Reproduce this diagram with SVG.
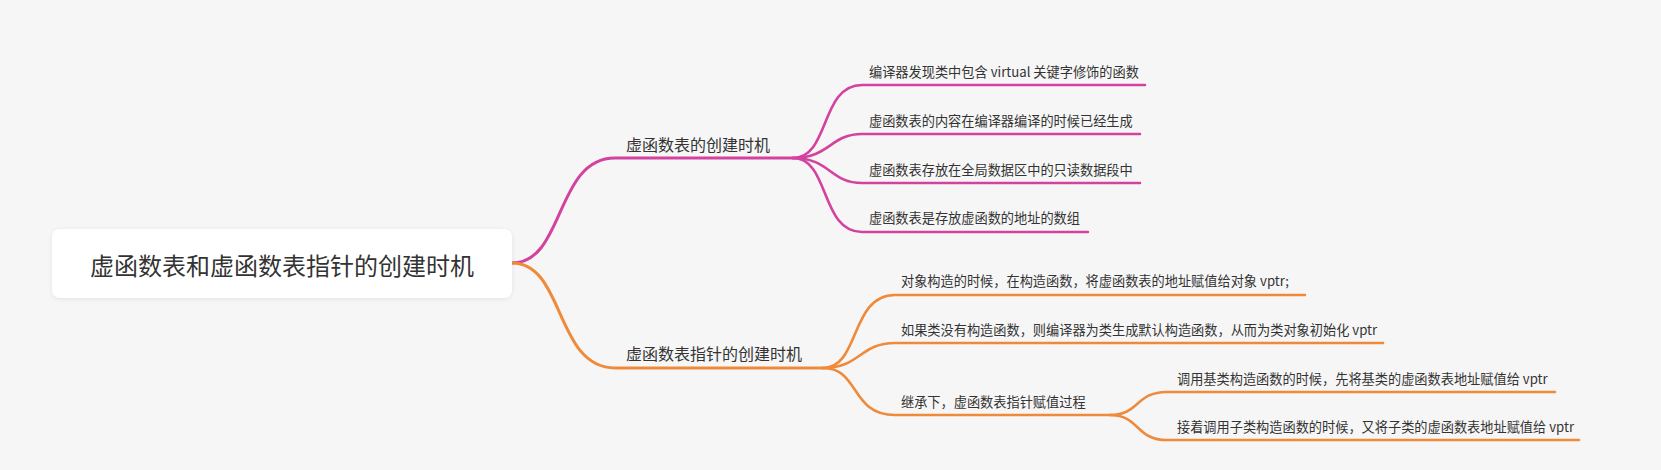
<svg xmlns="http://www.w3.org/2000/svg" width="1661" height="470" viewBox="0 0 1661 470">
<defs>
<filter id="sh" x="-5%" y="-20%" width="110%" height="140%">
<feDropShadow dx="0" dy="1" stdDeviation="2" flood-color="#000" flood-opacity="0.08"/>
</filter>
</defs>
<style>
text{font-family:"Noto Sans CJK SC","Noto Sans",sans-serif;fill:#333;}
.root{font-size:24px;}
.main{font-size:16px;}
.leaf{font-size:13.2px;}
.m{stroke:#d3429e;fill:none;stroke-linecap:round;}
.o{stroke:#ef8a3b;fill:none;stroke-linecap:round;}
.w3{stroke-width:3;}
.w2{stroke-width:2.6;}
</style>
<rect width="1661" height="470" fill="#f6f6f6"/>
<g id="connectors">
<path class="m w3" d="M512,263 C565,263 555,158 615,158 L793,158"/>
<path class="o w3" d="M512,263 C565,263 555,368 615,368 L823,368"/>
<path class="m w2" d="M793,158 C830,158 820,85 862,85 L1145,85"/>
<path class="m w2" d="M793,158 C830,158 830,134 862,134 L1140,134"/>
<path class="m w2" d="M793,158 C830,158 830,183 862,183 L1140,183"/>
<path class="m w2" d="M793,158 C830,158 820,232 862,232 L1088,232"/>
<path class="o w2" d="M823,368 C860,368 850,295 895,295 L1305,295"/>
<path class="o w2" d="M823,368 C860,368 860,343 895,343 L1383,343"/>
<path class="o w2" d="M823,368 C860,368 850,415 895,415 L1110,415"/>
<path class="o w2" d="M1110,415 C1140,415 1135,392 1167,392 L1555,392"/>
<path class="o w2" d="M1110,415 C1140,415 1135,440 1167,440 L1579,440"/>
</g>
<g id="root">
<rect x="52" y="229" width="460" height="69" rx="8" fill="#fff" filter="url(#sh)"/>
<text class="root" x="282" y="275" text-anchor="middle">虚函数表和虚函数表指针的创建时机</text>
</g>
<g id="b1"><text class="main" x="626" y="151">虚函数表的创建时机</text></g>
<g id="b2"><text class="main" x="626" y="360">虚函数表指针的创建时机</text></g>
<g id="b1c1"><text class="leaf" x="869" y="77">编译器发现类中包含 virtual 关键字修饰的函数</text></g>
<g id="b1c2"><text class="leaf" x="869" y="126">虚函数表的内容在编译器编译的时候已经生成</text></g>
<g id="b1c3"><text class="leaf" x="869" y="175">虚函数表存放在全局数据区中的只读数据段中</text></g>
<g id="b1c4"><text class="leaf" x="869" y="223">虚函数表是存放虚函数的地址的数组</text></g>
<g id="b2c1"><text class="leaf" x="901" y="286">对象构造的时候，在构造函数，将虚函数表的地址赋值给对象 vptr;</text></g>
<g id="b2c2"><text class="leaf" x="901" y="335">如果类没有构造函数，则编译器为类生成默认构造函数，从而为类对象初始化 vptr</text></g>
<g id="b2c3"><text class="leaf" x="901" y="407">继承下，虚函数表指针赋值过程</text></g>
<g id="b2c3g1"><text class="leaf" x="1177" y="384">调用基类构造函数的时候，先将基类的虚函数表地址赋值给 vptr</text></g>
<g id="b2c3g2"><text class="leaf" x="1177" y="432">接着调用子类构造函数的时候，又将子类的虚函数表地址赋值给 vptr</text></g>
</svg>
